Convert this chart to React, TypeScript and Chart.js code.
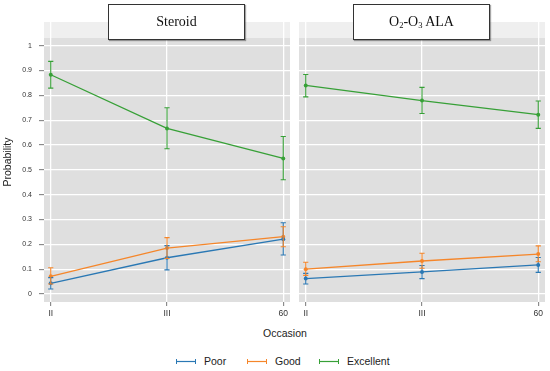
import React, { useEffect, useRef } from "react";
import { Chart, registerables } from "chart.js";

Chart.register(...registerables);

const occasions = ["II", "III", "60"];
const occasionIdx = [0, 1, 2];
const yTicks = [0, 0.1, 0.2, 0.3, 0.4, 0.5, 0.6, 0.7, 0.8, 0.9, 1];
const yTickLabels = ["0", "0.1", "0.2", "0.3", "0.4", "0.5", "0.6", "0.7", "0.8", "0.9", "1"];

const seriesNames = ["Poor", "Good", "Excellent"];
const seriesColors = ["#2a78b4", "#f5862a", "#37a037"];

// Steroid panel
const steroidPoor = [0.043, 0.146, 0.221];
const steroidPoorLo = [0.02, 0.097, 0.157];
const steroidPoorHi = [0.066, 0.195, 0.287];
const steroidGood = [0.071, 0.185, 0.231];
const steroidGoodLo = [0.04, 0.143, 0.19];
const steroidGoodHi = [0.106, 0.227, 0.271];
const steroidExc = [0.883, 0.667, 0.546];
const steroidExcLo = [0.829, 0.585, 0.46];
const steroidExcHi = [0.937, 0.75, 0.634];

// O2-O3 ALA panel
const alaPoor = [0.062, 0.089, 0.117];
const alaPoorLo = [0.04, 0.062, 0.087];
const alaPoorHi = [0.083, 0.115, 0.147];
const alaGood = [0.1, 0.133, 0.161];
const alaGoodLo = [0.075, 0.104, 0.13];
const alaGoodHi = [0.128, 0.164, 0.194];
const alaExc = [0.84, 0.779, 0.722];
const alaExcLo = [0.794, 0.727, 0.667];
const alaExcHi = [0.884, 0.832, 0.777];

const Y_MIN = -0.0322;
const Y_MAX = 1.0954;
const X_MIN = -0.058;
const X_MAX = 2.058;

function makeDatasets(vals: number[][], los: number[][], his: number[][]) {
  return vals.map((v, s) => ({
    label: seriesNames[s],
    data: v.map((y, i) => ({ x: occasionIdx[i], y })),
    lo: los[s],
    hi: his[s],
    borderColor: seriesColors[s],
    backgroundColor: seriesColors[s],
    borderWidth: 1.3,
    pointRadius: 2,
    pointBorderWidth: 0,
    pointHoverRadius: 2,
    tension: 0,
  }));
}

const panelPlugin = {
  id: "panelBg",
  beforeDraw(chart: any) {
    const { ctx, chartArea } = chart;
    const { left, right, top, bottom } = chartArea;
    ctx.save();
    ctx.fillStyle = "#efefef";
    ctx.fillRect(left, top, right - left, 16);
    ctx.fillStyle = "#dfdfdf";
    ctx.fillRect(left, top + 16, right - left, bottom - top - 16);
    ctx.restore();
  },
};

const errorBarPlugin = {
  id: "errorBars",
  afterDatasetsDraw(chart: any) {
    const { ctx } = chart;
    const yScale = chart.scales.y;
    chart.data.datasets.forEach((ds: any, di: number) => {
      const meta = chart.getDatasetMeta(di);
      ctx.save();
      ctx.strokeStyle = ds.borderColor;
      ctx.lineWidth = 1.1;
      meta.data.forEach((pt: any, i: number) => {
        const x = pt.x;
        const yl = yScale.getPixelForValue(ds.lo[i]);
        const yh = yScale.getPixelForValue(ds.hi[i]);
        ctx.beginPath();
        ctx.moveTo(x, yl);
        ctx.lineTo(x, yh);
        ctx.moveTo(x - 2.6, yl);
        ctx.lineTo(x + 2.6, yl);
        ctx.moveTo(x - 2.6, yh);
        ctx.lineTo(x + 2.6, yh);
        ctx.stroke();
      });
      ctx.restore();
    });
  },
};

function makeConfig(datasets: any[], showY: boolean, padding: any): any {
  return {
    type: "line",
    data: { datasets },
    plugins: [panelPlugin, errorBarPlugin],
    options: {
      animation: false,
      responsive: false,
      events: [],
      layout: { padding },
      plugins: { legend: { display: false }, tooltip: { enabled: false } },
      scales: {
        x: {
          type: "linear",
          min: X_MIN,
          max: X_MAX,
          afterBuildTicks: (scale: any) => {
            scale.ticks = occasionIdx.map((v) => ({ value: v }));
          },
          afterFit: (scale: any) => {
            scale.height = 20;
          },
          ticks: {
            callback: (v: number) => occasions[Math.round(v)],
            color: "#333",
            font: { family: "Liberation Sans, Arial, sans-serif", size: 8.5 },
            padding: 3,
            maxRotation: 0,
            autoSkip: false,
          },
          grid: {
            color: "#ffffff",
            lineWidth: 1.3,
            tickColor: "#555",
            tickLength: 4,
            tickWidth: 0.8,
          },
          border: { display: false },
        },
        y: {
          type: "linear",
          min: Y_MIN,
          max: Y_MAX,
          afterBuildTicks: (scale: any) => {
            scale.ticks = yTicks.map((v) => ({ value: v }));
          },
          afterFit: (scale: any) => {
            scale.width = showY ? 44 : 0;
          },
          ticks: {
            display: showY,
            callback: (v: number) => yTickLabels[yTicks.findIndex((t) => Math.abs(t - v) < 1e-6)],
            color: "#333",
            font: { family: "Liberation Sans, Arial, sans-serif", size: 7 },
            padding: 7,
          },
          title: {
            display: showY,
            text: "Probability",
            color: "#222",
            font: { family: "Liberation Sans, Arial, sans-serif", size: 10.5 },
            padding: { top: 2, bottom: 0 },
          },
          grid: {
            color: "#ffffff",
            lineWidth: 1.3,
            tickColor: "#555",
            tickLength: showY ? 5 : 0,
            drawTicks: showY,
            tickWidth: 0.8,
          },
          border: { display: false },
        },
      },
    },
  };
}

function Panel(props: { datasets: any[]; showY: boolean; left: number; width: number; padding: any }) {
  const ref = useRef<HTMLCanvasElement>(null);
  useEffect(() => {
    if (!ref.current) return;
    const chart = new Chart(ref.current, makeConfig(props.datasets, props.showY, props.padding));
    return () => chart.destroy();
  }, []);
  return (
    <canvas
      ref={ref}
      width={props.width}
      height={322}
      style={{ position: "absolute", left: props.left, top: 0, width: props.width, height: 322 }}
    />
  );
}

const titleBox: React.CSSProperties = {
  position: "absolute",
  top: 4,
  width: 135,
  height: 34,
  background: "#fff",
  border: "1px solid #333",
  boxShadow: "1px 1px 1px rgba(0,0,0,0.35)",
  display: "flex",
  alignItems: "center",
  justifyContent: "center",
  fontFamily: "'Liberation Serif', 'Times New Roman', serif",
  fontSize: 14,
  color: "#111",
};

function LegendMark({ color }: { color: string }) {
  return (
    <svg width={20} height={7} style={{ display: "block" }}>
      <line x1={0.5} y1={3.5} x2={19.5} y2={3.5} stroke={color} strokeWidth={1.2} />
      <line x1={0.5} y1={1} x2={0.5} y2={6} stroke={color} strokeWidth={1} />
      <line x1={19.5} y1={1} x2={19.5} y2={6} stroke={color} strokeWidth={1} />
    </svg>
  );
}

export default function App() {
  const steroidSets = makeDatasets(
    [steroidPoor, steroidGood, steroidExc],
    [steroidPoorLo, steroidGoodLo, steroidExcLo],
    [steroidPoorHi, steroidGoodHi, steroidExcHi]
  );
  const alaSets = makeDatasets(
    [alaPoor, alaGood, alaExc],
    [alaPoorLo, alaGoodLo, alaExcLo],
    [alaPoorHi, alaGoodHi, alaExcHi]
  );
  const legendLeft = [176, 247, 319];
  return (
    <div
      style={{
        position: "fixed",
        left: 0,
        top: 0,
        width: 550,
        height: 371,
        overflow: "hidden",
        background: "#fff",
        fontFamily: "'Liberation Sans', Arial, sans-serif",
      }}
    >
      <Panel datasets={steroidSets} showY={true} left={0} width={300} padding={{ top: 22, right: 10, left: 0, bottom: 0 }} />
      <Panel datasets={alaSets} showY={false} left={289} width={266} padding={{ top: 22, right: 10, left: 10, bottom: 0 }} />
      <div style={{ ...titleBox, left: 108 }}>Steroid</div>
      <div style={{ ...titleBox, left: 353 }}>
        <span>
          O<sub style={{ fontSize: 8.5, verticalAlign: "-2px" }}>2</sub>-O<sub style={{ fontSize: 8.5, verticalAlign: "-2px" }}>3</sub> ALA
        </span>
      </div>
      <div
        style={{
          position: "absolute",
          top: 327,
          left: 235,
          width: 100,
          textAlign: "center",
          fontSize: 10.5,
          color: "#222",
        }}
      >
        Occasion
      </div>
      {seriesNames.map((n, i) => (
        <div
          key={n}
          style={{
            position: "absolute",
            left: legendLeft[i],
            top: 354,
            display: "flex",
            alignItems: "center",
            gap: 8,
            fontSize: 10.5,
            color: "#222",
            lineHeight: "14px",
          }}
        >
          <LegendMark color={seriesColors[i]} />
          <span>{n}</span>
        </div>
      ))}
    </div>
  );
}
